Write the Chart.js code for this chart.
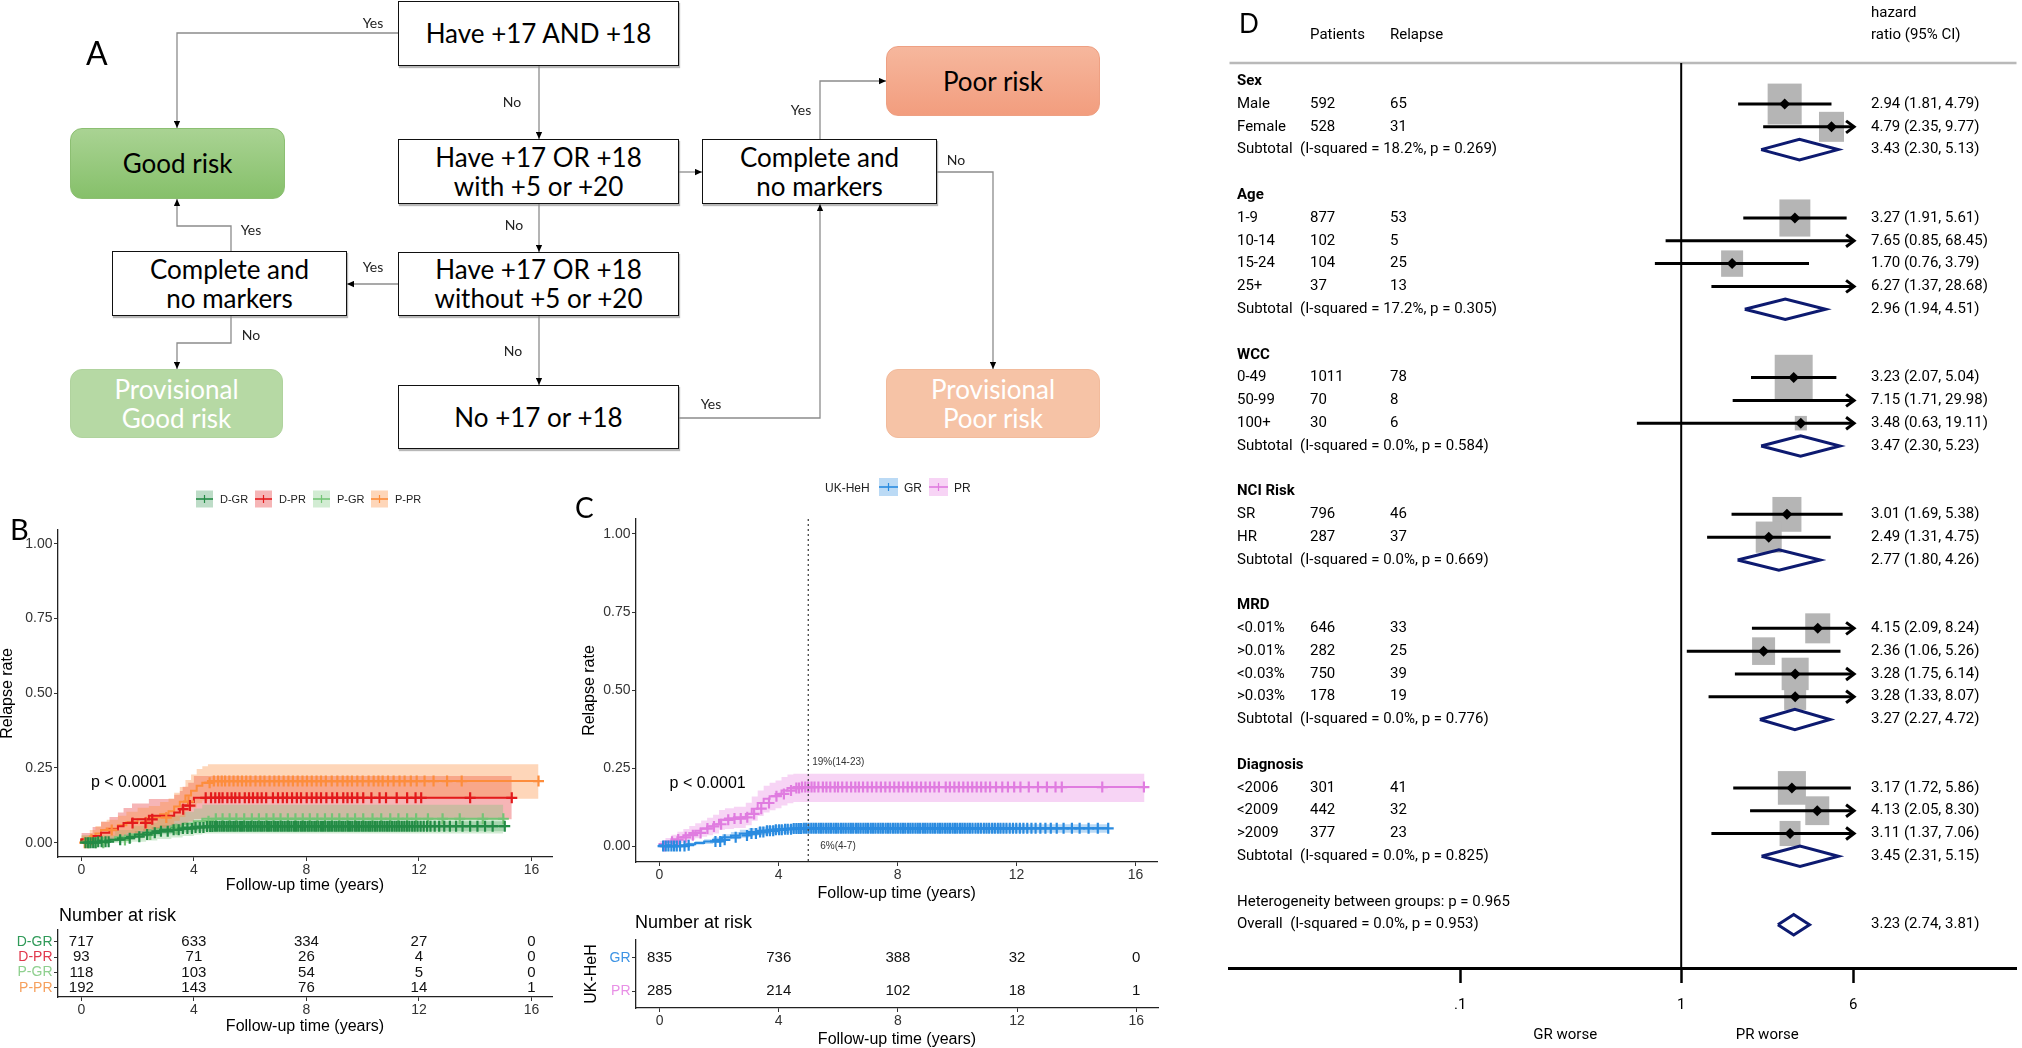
<!DOCTYPE html>
<html>
<head>
<meta charset="utf-8">
<title>Risk stratification figure</title>
<script src="https://cdn.jsdelivr.net/npm/chart.js@4.4.1/dist/chart.umd.min.js"></script>
<style>
  html, body { margin:0; padding:0; background:#fff; }
  #page { position:relative; width:2022px; height:1048px; overflow:hidden; background:#fff; }
  .fbox { position:absolute; box-sizing:border-box; display:flex; align-items:center; justify-content:center; text-align:center;
          font-family:Lato, "Open Sans", sans-serif; font-size:26px; line-height:29px; color:#000; z-index:1; }
  .wbox { background:#fff; border:1.6px solid #111; box-shadow:1px 2px 1px rgba(0,0,0,0.28); }
  .rbox { border-radius:12px; }
  canvas { position:absolute; z-index:2; }
  #overlay { position:absolute; left:0; top:0; z-index:5; pointer-events:none; }
</style>
</head>
<body>
<div id="page">
  <!-- Panel A flowchart boxes -->
  <div class="fbox wbox" style="left:398px;top:1px;width:281px;height:65px;">Have +17 AND +18</div>
  <div class="fbox wbox" style="left:398px;top:139px;width:281px;height:65px;">Have +17 OR +18<br>with +5 or +20</div>
  <div class="fbox wbox" style="left:702px;top:139px;width:235px;height:65px;">Complete and<br>no markers</div>
  <div class="fbox wbox" style="left:398px;top:252px;width:281px;height:64px;">Have +17 OR +18<br>without +5 or +20</div>
  <div class="fbox wbox" style="left:112px;top:251px;width:235px;height:65px;">Complete and<br>no markers</div>
  <div class="fbox wbox" style="left:398px;top:385px;width:281px;height:64px;">No +17 or +18</div>
  <div class="fbox rbox" style="left:70px;top:128px;width:215px;height:71px;background:linear-gradient(#a9d393,#86c06a);border:1px solid #8cbf72;">Good risk</div>
  <div class="fbox rbox" style="left:886px;top:46px;width:214px;height:70px;background:linear-gradient(#f6b79d,#f29d7e);border:1px solid #eea083;">Poor risk</div>
  <div class="fbox rbox" style="left:70px;top:369px;width:213px;height:69px;background:#b6d9a4;border:1px solid #b0d39e;color:#fff;">Provisional<br>Good risk</div>
  <div class="fbox rbox" style="left:886px;top:369px;width:214px;height:69px;background:#f6c3a6;border:1px solid #f2bb9c;color:#fff;">Provisional<br>Poor risk</div>

  <canvas id="kmB" width="560" height="380" style="left:0px;top:520px;width:560px;height:380px;"></canvas>
  <canvas id="riskB" width="560" height="143" style="left:0px;top:905px;width:560px;height:143px;"></canvas>
  <canvas id="kmC" width="590" height="400" style="left:575px;top:505px;width:590px;height:400px;"></canvas>
  <canvas id="riskC" width="590" height="123" style="left:575px;top:925px;width:590px;height:123px;"></canvas>
  <canvas id="forestD" width="798" height="1048" style="left:1224px;top:0px;width:798px;height:1048px;"></canvas>

  <svg id="overlay" width="2022" height="1048" xmlns="http://www.w3.org/2000/svg">
    <defs>
      <marker id="ah" viewBox="0 0 10 10" refX="10" refY="5" markerWidth="7" markerHeight="7" markerUnits="userSpaceOnUse" orient="auto">
        <path d="M0,0.5 L10,5 L0,9.5 z" fill="#000"/>
      </marker>
    </defs>
    <g fill="none" stroke="#8c8c8c" stroke-width="1.3" marker-end="url(#ah)">
      <polyline points="398,33 177,33 177,128"/>
      <polyline points="539,66 539,139"/>
      <polyline points="679,172 702,172"/>
      <polyline points="539,204 539,252"/>
      <polyline points="398,284 347,284"/>
      <polyline points="231,251 231,226 177,226 177,199"/>
      <polyline points="231,316 231,343 177,343 177,369"/>
      <polyline points="539,316 539,385"/>
      <polyline points="679,418 820,418 820,204"/>
      <polyline points="820,139 820,81 886,81"/>
      <polyline points="937,172 993,172 993,369"/>
    </g>
    <g font-family="Lato, sans-serif" font-size="14" fill="#222" text-anchor="middle">
      <text x="373" y="28">Yes</text>
      <text x="512" y="107">No</text>
      <text x="514" y="230">No</text>
      <text x="373" y="272">Yes</text>
      <text x="251" y="235">Yes</text>
      <text x="251" y="340">No</text>
      <text x="513" y="356">No</text>
      <text x="711" y="409">Yes</text>
      <text x="801" y="115">Yes</text>
      <text x="956" y="165">No</text>
    </g>
    <g font-family="Lato, sans-serif" fill="#000">
      <text x="86" y="65" font-size="32">A</text>
      <text x="10" y="540" font-size="29">B</text>
      <text x="575" y="518" font-size="28">C</text>
    </g>
    <g font-family="'Liberation Sans', Arial, sans-serif" font-size="18" fill="#000">
      <text x="59" y="921">Number at risk</text>
      <text x="635" y="928">Number at risk</text>
    </g>
    <g id="legendB"></g>
    <g id="legendC"></g>
  </svg>
</div>

<script>
// ===================== DATA =====================
// shared KM axes
const timeTicks = [0, 4, 8, 12, 16];
const rateTicks = [0, 0.25, 0.5, 0.75, 1];

// ---- Panel B ----
const bGroups = ['D-GR', 'D-PR', 'P-GR', 'P-PR'];
const bRisk = [
  [717, 633, 334, 27, 0],
  [93, 71, 26, 4, 0],
  [118, 103, 54, 5, 0],
  [192, 143, 76, 14, 1]
];
const dgrTime  = [0, 0.6, 1.0, 1.3, 1.6, 1.9, 2.2, 2.5, 2.8, 3.2, 3.6, 4.0, 4.4, 4.7, 15.1];
const dgrRate  = [0, 0.003, 0.006, 0.010, 0.015, 0.020, 0.027, 0.033, 0.038, 0.043, 0.047, 0.051, 0.054, 0.055, 0.055];
const dgrLower = [0, 0, 0.001, 0.003, 0.006, 0.010, 0.015, 0.020, 0.024, 0.028, 0.031, 0.034, 0.037, 0.038, 0.038];
const dgrUpper = [0, 0.007, 0.012, 0.017, 0.024, 0.030, 0.039, 0.046, 0.052, 0.058, 0.063, 0.068, 0.071, 0.072, 0.072];
const dgrCensor = [0.15,0.24,0.33,0.42,0.5,0.6,0.72,0.86,0.97,1.38,1.72,2.06,2.34,2.61,2.83,3.07,3.28,3.46,3.61,3.77,3.93,4.06,4.21,4.34,4.47,4.58,4.66,4.75,4.82,4.91,4.99,5.07,5.16,5.23,5.31,5.4,5.47,5.55,5.64,5.71,5.79,5.88,5.95,6.03,6.12,6.19,6.27,6.36,6.43,6.51,6.6,6.67,6.75,6.84,6.91,6.99,7.08,7.15,7.23,7.32,7.39,7.47,7.56,7.63,7.71,7.8,7.87,7.95,8.04,8.11,8.19,8.28,8.35,8.43,8.52,8.59,8.67,8.76,8.83,8.91,9.0,9.07,9.15,9.24,9.31,9.39,9.48,9.55,9.63,9.72,9.79,9.87,9.96,10.03,10.11,10.2,10.27,10.35,10.44,10.52,10.61,10.7,10.78,10.87,10.95,11.04,11.13,11.21,11.3,11.39,11.48,11.57,11.66,11.76,11.85,11.95,12.06,12.17,12.29,12.41,12.56,12.72,12.9,13.1,13.32,13.55,13.82,14.08,14.35,14.62,15.05];

const dprTime  = [0, 0.4, 0.7, 1.0, 1.3, 1.5, 1.8, 2.4, 3.3, 3.5, 3.6, 3.8, 4.0, 4.2, 15.3];
const dprRate  = [0, 0.011, 0.022, 0.033, 0.044, 0.055, 0.066, 0.078, 0.090, 0.101, 0.112, 0.124, 0.136, 0.150, 0.150];
const dprLower = [0, 0, 0, 0.005, 0.010, 0.016, 0.022, 0.029, 0.037, 0.045, 0.053, 0.061, 0.070, 0.078, 0.078];
const dprUpper = [0, 0.032, 0.052, 0.070, 0.086, 0.101, 0.116, 0.131, 0.146, 0.160, 0.173, 0.187, 0.200, 0.223, 0.223];
const dprCensor = [1.82,2.28,2.52,3.62,3.86,4.42,4.61,4.76,4.9,5.02,5.19,5.34,5.47,5.62,5.81,5.96,6.1,6.26,6.41,6.57,6.81,6.99,7.16,7.31,7.49,7.66,7.81,8.01,8.19,8.36,8.52,8.71,8.92,9.09,9.31,9.46,9.62,9.81,10.02,10.31,10.6,10.83,11.21,11.58,11.88,12.08,13.82,15.3];

const pgrTime  = [0, 1.2, 1.8, 2.3, 2.7, 3.2, 3.6, 4.0, 4.3, 4.7, 15.0];
const pgrRate  = [0, 0.009, 0.018, 0.027, 0.036, 0.045, 0.054, 0.063, 0.072, 0.080, 0.080];
const pgrLower = [0, 0, 0, 0.003, 0.007, 0.012, 0.017, 0.022, 0.027, 0.031, 0.031];
const pgrUpper = [0, 0.025, 0.042, 0.055, 0.067, 0.079, 0.091, 0.103, 0.114, 0.127, 0.127];
const pgrCensor = [0.28,0.52,0.78,1.55,2.45,3.38,4.52,4.78,5.02,5.27,5.51,5.79,6.06,6.31,6.58,6.83,7.08,7.34,7.61,7.87,8.12,8.39,8.66,8.91,9.17,9.46,9.73,10.02,10.35,10.66,10.98,11.27,11.58,11.9,12.32,12.84,13.45,14.27,15.0];

const pprTime  = [0, 0.3, 0.5, 0.7, 0.9, 1.3, 1.6, 2.0, 2.4, 2.8, 3.1, 3.3, 3.5, 3.7, 3.9, 4.1, 4.3, 4.5, 4.7, 16.25];
const pprRate  = [0, 0.010, 0.021, 0.031, 0.042, 0.047, 0.058, 0.068, 0.079, 0.084, 0.095, 0.105, 0.121, 0.137, 0.158, 0.174, 0.190, 0.200, 0.206, 0.206];
const pprLower = [0, 0, 0.003, 0.008, 0.015, 0.018, 0.025, 0.032, 0.040, 0.044, 0.052, 0.060, 0.073, 0.086, 0.104, 0.118, 0.132, 0.141, 0.147, 0.147];
const pprUpper = [0, 0.024, 0.042, 0.056, 0.070, 0.077, 0.090, 0.103, 0.117, 0.123, 0.136, 0.148, 0.167, 0.186, 0.210, 0.228, 0.246, 0.256, 0.262, 0.262];
const pprCensor = [0.12,0.22,0.36,1.08,2.31,3.02,3.81,4.56,4.71,4.86,4.99,5.11,5.26,5.41,5.56,5.71,5.86,6.01,6.19,6.36,6.51,6.69,6.86,7.02,7.19,7.36,7.52,7.69,7.86,8.02,8.19,8.36,8.52,8.69,8.9,9.1,9.29,9.46,9.62,9.81,10.0,10.21,10.39,10.56,10.71,10.9,11.1,11.31,11.49,11.71,11.92,12.2,12.52,13.0,13.52,16.25];

// ---- Panel C ----
const cGroups = ['GR', 'PR'];
const cRisk = [
  [835, 736, 388, 32, 0],
  [285, 214, 102, 18, 1]
];
const grTime  = [0, 0.9, 1.2, 1.5, 1.8, 2.1, 2.4, 2.7, 3.0, 3.3, 3.6, 3.9, 4.2, 4.5, 4.8, 15.1];
const grRate  = [0, 0.003, 0.006, 0.010, 0.015, 0.020, 0.028, 0.034, 0.040, 0.045, 0.049, 0.052, 0.054, 0.056, 0.057, 0.057];
const grLower = [0, 0, 0.001, 0.004, 0.007, 0.011, 0.017, 0.022, 0.027, 0.032, 0.035, 0.038, 0.040, 0.042, 0.043, 0.043];
const grUpper = [0, 0.007, 0.011, 0.016, 0.022, 0.028, 0.038, 0.045, 0.052, 0.058, 0.062, 0.065, 0.067, 0.069, 0.070, 0.070];
const grCensor = [0.12,0.21,0.3,0.4,0.49,0.58,0.69,0.84,0.98,1.88,2.04,2.19,2.56,2.94,3.09,3.24,3.38,3.49,3.61,3.71,3.82,3.91,4.02,4.11,4.22,4.31,4.42,4.51,4.6,4.68,4.76,4.85,4.93,5.01,5.1,5.18,5.26,5.35,5.43,5.51,5.6,5.68,5.76,5.85,5.93,6.01,6.1,6.18,6.26,6.35,6.43,6.51,6.6,6.68,6.76,6.85,6.93,7.01,7.1,7.18,7.26,7.35,7.43,7.51,7.6,7.68,7.76,7.85,7.93,8.01,8.1,8.18,8.26,8.35,8.43,8.51,8.6,8.68,8.76,8.85,8.93,9.01,9.1,9.18,9.26,9.35,9.43,9.51,9.6,9.68,9.76,9.85,9.93,10.01,10.1,10.18,10.26,10.35,10.43,10.52,10.62,10.71,10.8,10.9,10.99,11.08,11.18,11.27,11.37,11.46,11.56,11.66,11.77,11.88,11.99,12.11,12.23,12.36,12.5,12.64,12.8,12.97,13.15,13.35,13.58,13.86,14.12,14.42,14.73,15.08];

const prTime  = [0, 0.2, 0.4, 0.6, 0.8, 1.0, 1.2, 1.4, 1.6, 1.8, 2.0, 2.2, 2.5, 2.9, 3.1, 3.3, 3.5, 3.7, 3.9, 4.1, 4.3, 4.5, 4.7, 16.3];
const prRate  = [0, 0.007, 0.014, 0.021, 0.028, 0.035, 0.042, 0.049, 0.056, 0.063, 0.070, 0.084, 0.088, 0.092, 0.103, 0.120, 0.138, 0.152, 0.160, 0.167, 0.178, 0.186, 0.189, 0.189];
const prLower = [0, 0, 0.002, 0.006, 0.010, 0.015, 0.020, 0.025, 0.030, 0.035, 0.040, 0.052, 0.055, 0.058, 0.067, 0.081, 0.096, 0.108, 0.115, 0.121, 0.130, 0.137, 0.141, 0.141];
const prUpper = [0, 0.016, 0.026, 0.036, 0.046, 0.055, 0.064, 0.073, 0.082, 0.091, 0.100, 0.116, 0.121, 0.126, 0.139, 0.159, 0.178, 0.193, 0.203, 0.210, 0.221, 0.229, 0.232, 0.232];
const prCensor = [0.16,0.42,0.63,0.88,1.12,1.38,1.61,1.83,2.07,2.31,2.52,2.73,2.95,3.18,3.42,3.68,3.93,4.18,4.42,4.6,4.69,4.79,4.9,5.0,5.11,5.21,5.34,5.49,5.61,5.74,5.89,6.0,6.14,6.29,6.44,6.58,6.7,6.84,6.99,7.14,7.29,7.44,7.59,7.74,7.89,8.04,8.19,8.34,8.49,8.64,8.79,8.94,9.09,9.24,9.39,9.62,9.76,9.91,10.06,10.21,10.36,10.51,10.66,10.81,10.96,11.11,11.31,11.52,11.71,11.92,12.13,12.41,12.72,13.02,13.31,13.52,14.88,16.28];
const cMarkTime = 5;
const cMarkLabels = ['19%(14-23)', '6%(4-7)'];
const pValueText = 'p < 0.0001';

// ---- Panel D (forest plot) ----
const fGroups = ['Sex', 'Age', 'WCC', 'NCI Risk', 'MRD', 'Diagnosis'];
const fLabels = ['Male','Female','1-9','10-14','15-24','25+','0-49','50-99','100+','SR','HR','<0.01%','>0.01%','<0.03%','>0.03%','<2006','<2009','>2009'];
const fGroupOf = [0,0,1,1,1,1,2,2,2,3,3,4,4,4,4,5,5,5];
const fPatients = [592,528,877,102,104,37,1011,70,30,796,287,646,282,750,178,301,442,377];
const fRelapse  = [65,31,53,5,25,13,78,8,6,46,37,33,25,39,19,41,32,23];
const fHR    = [2.94,4.79,3.27,7.65,1.70,6.27,3.23,7.15,3.48,3.01,2.49,4.15,2.36,3.28,3.28,3.17,4.13,3.11];
const fLow   = [1.81,2.35,1.91,0.85,0.76,1.37,2.07,1.71,0.63,1.69,1.31,2.09,1.06,1.75,1.33,1.72,2.05,1.37];
const fHigh  = [4.79,9.77,5.61,68.45,3.79,28.68,5.04,29.98,19.11,5.38,4.75,8.24,5.26,6.14,8.07,5.86,8.30,7.06];
const fWeight = [23,12.4,19,2.5,9.6,3,28.6,4,2.9,16.7,13.4,12.4,10.5,14.5,9.6,15.6,11.4,8.7];
const subHR   = [3.43,2.96,3.47,2.77,3.27,3.45];
const subLow  = [2.30,1.94,2.30,1.80,2.27,2.31];
const subHigh = [5.13,4.51,5.23,4.26,4.72,5.15];
const subI2   = ['18.2%','17.2%','0.0%','0.0%','0.0%','0.0%'];
const subP    = ['0.269','0.305','0.584','0.669','0.776','0.825'];
const overallHR = 3.23, overallLow = 2.74, overallHigh = 3.81, overallI2 = '0.0%', overallP = '0.953';
const hetP = '0.965';
const hrTicks = [0.1, 1, 6];
const hrTickLabels = ['.1', '1', '6'];

// ===================== STYLE =====================
const sans = '"Liberation Sans", Arial, Helvetica, sans-serif';
const bStyle = [
  { color:'#238b45', band:'rgba(35,139,69,0.30)', label:'#2f9a58' },
  { color:'#e31a1c', band:'rgba(227,26,28,0.32)', label:'#e0384c' },
  { color:'#74c476', band:'rgba(116,196,118,0.32)', label:'#8fd08f' },
  { color:'#fd8d3c', band:'rgba(253,141,60,0.36)', label:'#f6a05d' }
];
const cStyle = [
  { color:'#2a8be0', band:'rgba(42,139,224,0.32)', label:'#3d93e4' },
  { color:'#e07ce0', band:'rgba(232,128,226,0.34)', label:'#e890e6' }
];

// ===================== HELPERS =====================
function stepValue(times, vals, t) {
  let v = vals[0];
  for (let i = 0; i < times.length; i++) { if (times[i] <= t) v = vals[i]; else break; }
  return v;
}
function kmDatasets(groups, styles) {
  const ds = [];
  groups.forEach((g, gi) => {
    const lowIdx = ds.length;
    ds.push({ data: g.time.map((t, i) => ({ x: t, y: g.lower[i] })), stepped: 'after', borderWidth: 0,
              borderColor: 'rgba(0,0,0,0)', pointRadius: 0, fill: false, order: 20 - gi });
    ds.push({ data: g.time.map((t, i) => ({ x: t, y: g.upper[i] })), stepped: 'after', borderWidth: 0,
              borderColor: 'rgba(0,0,0,0)', pointRadius: 0, fill: { target: lowIdx }, backgroundColor: styles[gi].band, order: 20 - gi });
  });
  groups.forEach((g, gi) => {
    ds.push({ data: g.time.map((t, i) => ({ x: t, y: g.rate[i] })), stepped: 'after', borderWidth: 2,
              borderColor: styles[gi].color, pointRadius: 0, fill: false, order: 6 });
    ds.push({ data: g.censor.map(t => ({ x: t, y: stepValue(g.time, g.rate, t) })), showLine: false,
              pointStyle: 'cross', pointRadius: 5.5, pointBorderWidth: 2.2, pointBorderColor: styles[gi].color,
              borderColor: styles[gi].color, backgroundColor: styles[gi].color, order: 5 });
  });
  return ds;
}
function tickGrid() {
  return { display: true, drawOnChartArea: false, drawTicks: true, tickLength: 4, tickColor: '#333', tickWidth: 1 };
}
function xTimeAxis(xMin, xMax, height, titlePadBottom, lineH) {
  return {
    type: 'linear', min: xMin, max: xMax,
    afterBuildTicks: s => { s.ticks = timeTicks.map(v => ({ value: v })); },
    ticks: { font: { family: sans, size: 14 }, color: '#333', padding: 1, maxRotation: 0, autoSkip: false, callback: v => String(v) },
    grid: tickGrid(),
    border: { display: true, color: '#222', width: 1.3 },
    title: { display: true, text: 'Follow-up time (years)', color: '#000',
             font: { family: sans, size: 16, lineHeight: lineH }, padding: { top: 0, bottom: titlePadBottom } },
    afterFit: s => { s.height = height; }
  };
}
function pvalPlugin(id, annotate) {
  return {
    id: id,
    afterDatasetsDraw(chart) {
      const { ctx, scales: { x, y }, chartArea } = chart;
      ctx.save();
      if (annotate) {
        const px = x.getPixelForValue(cMarkTime);
        ctx.strokeStyle = '#444'; ctx.lineWidth = 1.3; ctx.setLineDash([2, 3]);
        ctx.beginPath(); ctx.moveTo(px, chartArea.top); ctx.lineTo(px, chartArea.bottom); ctx.stroke();
        ctx.setLineDash([]);
        ctx.fillStyle = '#333'; ctx.font = '10px ' + sans; ctx.textAlign = 'left'; ctx.textBaseline = 'middle';
        ctx.fillText(cMarkLabels[0], x.getPixelForValue(5.13), y.getPixelForValue(0.269));
        ctx.fillText(cMarkLabels[1], x.getPixelForValue(5.4), y.getPixelForValue(0.0));
      }
      ctx.fillStyle = '#000'; ctx.font = '16px ' + sans; ctx.textAlign = 'left'; ctx.textBaseline = 'middle';
      ctx.fillText(pValueText, x.getPixelForValue(0.34), y.getPixelForValue(0.2));
      ctx.restore();
    }
  };
}
function riskPlugin(id, rows) {
  return {
    id: id,
    afterDatasetsDraw(chart) {
      const { ctx, scales: { x, y } } = chart;
      ctx.save();
      ctx.fillStyle = '#111'; ctx.font = '15px ' + sans; ctx.textAlign = 'center'; ctx.textBaseline = 'middle';
      rows.forEach((row, r) => row.forEach((v, i) => ctx.fillText(String(v), x.getPixelForValue(timeTicks[i]), y.getPixelForValue(r))));
      ctx.restore();
    }
  };
}
const baseOpts = { responsive: false, animation: false, events: [], devicePixelRatio: 1 };
const noPlugins = { legend: { display: false }, tooltip: { enabled: false } };

// ===================== PANEL B =====================
const bData = [
  { time: dgrTime, rate: dgrRate, lower: dgrLower, upper: dgrUpper, censor: dgrCensor },
  { time: dprTime, rate: dprRate, lower: dprLower, upper: dprUpper, censor: dprCensor },
  { time: pgrTime, rate: pgrRate, lower: pgrLower, upper: pgrUpper, censor: pgrCensor },
  { time: pprTime, rate: pprRate, lower: pprLower, upper: pprUpper, censor: pprCensor }
];
new Chart(document.getElementById('kmB'), {
  type: 'line',
  data: { datasets: kmDatasets(bData, bStyle) },
  options: Object.assign({}, baseOpts, {
    layout: { padding: { top: 10, right: 8, left: 0, bottom: 0 } },
    plugins: noPlugins,
    scales: {
      x: xTimeAxis(-0.83, 16.73, 43, 5, 1.2),
      y: {
        type: 'linear', min: -0.048, max: 1.046,
        afterBuildTicks: s => { s.ticks = rateTicks.map(v => ({ value: v })); },
        ticks: { font: { family: sans, size: 14 }, color: '#333', padding: 1.5, callback: v => Number(v).toFixed(2) },
        grid: tickGrid(), border: { display: true, color: '#222', width: 1.3 },
        title: { display: true, text: 'Relapse rate', color: '#000', font: { family: sans, size: 16, lineHeight: 1 }, padding: { top: 0, bottom: 0 } },
        afterFit: s => { s.width = 58; }
      }
    }
  }),
  plugins: [pvalPlugin('pvalB', false)]
});

new Chart(document.getElementById('riskB'), {
  type: 'line',
  data: { datasets: [] },
  options: Object.assign({}, baseOpts, {
    layout: { padding: { top: 25, right: 8, left: 0, bottom: 10 } },
    plugins: noPlugins,
    scales: {
      x: xTimeAxis(-0.83, 16.73, 41, 2, 1.2),
      y: {
        type: 'linear', reverse: true, min: -0.78, max: 3.59,
        afterBuildTicks: s => { s.ticks = bGroups.map((g, i) => ({ value: i })); },
        ticks: { font: { family: sans, size: 14 }, padding: 1.5, color: c => bStyle[c.tick ? c.tick.value : c.index].label, callback: v => bGroups[v] },
        grid: tickGrid(), border: { display: true, color: '#222', width: 1.3 },
        afterFit: s => { s.width = 58; }
      }
    }
  }),
  plugins: [riskPlugin('riskTextB', bRisk)]
});

// ===================== PANEL C =====================
const cData = [
  { time: grTime, rate: grRate, lower: grLower, upper: grUpper, censor: grCensor },
  { time: prTime, rate: prRate, lower: prLower, upper: prUpper, censor: prCensor }
];
new Chart(document.getElementById('kmC'), {
  type: 'line',
  data: { datasets: kmDatasets(cData, cStyle) },
  options: Object.assign({}, baseOpts, {
    layout: { padding: { top: 14, right: 7, left: 0, bottom: 0 } },
    plugins: noPlugins,
    scales: {
      x: xTimeAxis(-0.79, 16.73, 43, 2, 1.2),
      y: {
        type: 'linear', min: -0.051, max: 1.048,
        afterBuildTicks: s => { s.ticks = rateTicks.map(v => ({ value: v })); },
        ticks: { font: { family: sans, size: 14 }, color: '#333', padding: 1.5, callback: v => Number(v).toFixed(2) },
        grid: tickGrid(), border: { display: true, color: '#222', width: 1.3 },
        title: { display: true, text: 'Relapse rate', color: '#000', font: { family: sans, size: 16, lineHeight: 1 }, padding: { top: 7, bottom: 0 } },
        afterFit: s => { s.width = 61; }
      }
    }
  }),
  plugins: [pvalPlugin('pvalC', true)]
});

new Chart(document.getElementById('riskC'), {
  type: 'line',
  data: { datasets: [] },
  options: Object.assign({}, baseOpts, {
    layout: { padding: { top: 15, right: 7, left: 0, bottom: 0 } },
    plugins: noPlugins,
    scales: {
      x: xTimeAxis(-0.79, 16.73, 40, 0, 1.0),
      y: {
        type: 'linear', reverse: true, min: -0.545, max: 1.515,
        afterBuildTicks: s => { s.ticks = cGroups.map((g, i) => ({ value: i })); },
        ticks: { font: { family: sans, size: 14 }, padding: 1.5, color: c => cStyle[c.tick ? c.tick.value : c.index].label, callback: v => cGroups[v] },
        grid: tickGrid(), border: { display: true, color: '#222', width: 1.3 },
        title: { display: true, text: 'UK-HeH', color: '#000', font: { family: sans, size: 16, lineHeight: 1 }, padding: { top: 9, bottom: 0 } },
        afterFit: s => { s.width = 61; }
      }
    }
  }),
  plugins: [riskPlugin('riskTextC', cRisk)]
});

// ===================== LEGENDS (SVG) =====================
function legendSwatch(x, yc, w, h, st) {
  return `<rect x="${x}" y="${yc - h / 2}" width="${w}" height="${h}" fill="${st.band}"/>` +
         `<line x1="${x}" x2="${x + w}" y1="${yc}" y2="${yc}" stroke="${st.color}" stroke-width="1.6"/>` +
         `<line x1="${x + w / 2}" x2="${x + w / 2}" y1="${yc - 4}" y2="${yc + 4}" stroke="${st.color}" stroke-width="1.2"/>`;
}
(function () {
  const swB = [196, 255, 313, 371];
  let s = '';
  bGroups.forEach((g, i) => {
    s += legendSwatch(swB[i], 499, 17, 17, bStyle[i]);
    s += `<text x="${swB[i] + 24}" y="503" font-family='${sans}' font-size="11" fill="#222">${g}</text>`;
  });
  document.getElementById('legendB').innerHTML = s;
  const swC = [879, 929];
  let c = `<text x="825" y="491.5" font-family='${sans}' font-size="12" fill="#222">UK-HeH</text>`;
  cGroups.forEach((g, i) => {
    c += legendSwatch(swC[i], 487, 19, 18, cStyle[i]);
    c += `<text x="${swC[i] + 25}" y="491.5" font-family='${sans}' font-size="12" fill="#222">${g}</text>`;
  });
  document.getElementById('legendC').innerHTML = c;
})();

// ===================== PANEL D =====================
const fFont = 'Roboto, "Liberation Sans", Arial, sans-serif';
const hrClip = hrTicks[hrTicks.length - 1];
const forestRows = [];
(function () {
  let r = 0;
  fGroups.forEach((g, gi) => {
    forestRows.push({ type: 'head', gi, r: r++ });
    fLabels.forEach((l, ii) => { if (fGroupOf[ii] === gi) forestRows.push({ type: 'item', ii, r: r++ }); });
    forestRows.push({ type: 'sub', gi, r: r++ });
    r++;
  });
  forestRows.push({ type: 'het', r: r++ });
  forestRows.push({ type: 'overall', r: r++ });
})();
const ciPts = [], estPts = [], diaPts = [];
function addDiamond(lo, hr, hi, r) {
  diaPts.push({ x: lo, y: r }, { x: hr, y: r - 0.45 }, { x: hi, y: r }, { x: hr, y: r + 0.45 }, { x: lo, y: r }, { x: lo, y: null });
}
forestRows.forEach(row => {
  if (row.type === 'item') {
    const i = row.ii;
    ciPts.push({ x: fLow[i], y: row.r }, { x: Math.min(fHigh[i], hrClip), y: row.r }, { x: fLow[i], y: null });
    if (fHR[i] <= hrClip) estPts.push({ x: fHR[i], y: row.r });
  } else if (row.type === 'sub') {
    addDiamond(subLow[row.gi], subHR[row.gi], subHigh[row.gi], row.r);
  } else if (row.type === 'overall') {
    addDiamond(overallLow, overallHR, overallHigh, row.r);
  }
});
const fmt2 = v => v.toFixed(2);
const forestPlugin = {
  id: 'forest',
  beforeDatasetsDraw(chart) {
    const { ctx, chartArea, scales: { x, y } } = chart;
    ctx.save();
    ctx.strokeStyle = '#b9b9b9'; ctx.lineWidth = 2.5;
    ctx.beginPath(); ctx.moveTo(chartArea.left, chartArea.top); ctx.lineTo(chartArea.right, chartArea.top); ctx.stroke();
    const x1 = x.getPixelForValue(1);
    ctx.strokeStyle = '#000'; ctx.lineWidth = 2;
    ctx.beginPath(); ctx.moveTo(x1, chartArea.top); ctx.lineTo(x1, chartArea.bottom); ctx.stroke();
    ctx.fillStyle = '#b5b5b5';
    forestRows.forEach(row => {
      if (row.type !== 'item') return;
      const i = row.ii;
      if (fHR[i] > hrClip) return;
      const w = 7.1 * Math.sqrt(fWeight[i]), h = w * 1.2;
      const px = x.getPixelForValue(fHR[i]), py = y.getPixelForValue(row.r);
      ctx.fillRect(px - w / 2, py - h / 2, w, h);
    });
    ctx.restore();
  },
  afterDatasetsDraw(chart) {
    const { ctx, chartArea, scales: { x, y } } = chart;
    ctx.save();
    // arrow heads for clipped CIs
    ctx.strokeStyle = '#000'; ctx.lineWidth = 3; ctx.lineJoin = 'miter';
    forestRows.forEach(row => {
      if (row.type !== 'item' || fHigh[row.ii] <= hrClip) return;
      const px = x.getPixelForValue(hrClip) + 1, py = y.getPixelForValue(row.r);
      ctx.beginPath(); ctx.moveTo(px - 8, py - 6); ctx.lineTo(px, py); ctx.lineTo(px - 8, py + 6); ctx.stroke();
    });
    // texts
    const col = { label: 13, pat: 86, rel: 166, hr: 647 };
    ctx.fillStyle = '#000';
    ctx.font = '26px Lato, sans-serif'; ctx.textAlign = 'left'; ctx.textBaseline = 'alphabetic';
    ctx.fillText('D', 15, 33);
    ctx.font = '15px ' + fFont; ctx.textBaseline = 'middle';
    ctx.fillText('Patients', col.pat, 35);
    ctx.fillText('Relapse', col.rel, 35);
    ctx.fillText('hazard', col.hr, 13);
    ctx.fillText('ratio (95% CI)', col.hr, 35);
    forestRows.forEach(row => {
      const py = y.getPixelForValue(row.r);
      if (row.type === 'head') {
        ctx.font = 'bold 15px ' + fFont; ctx.fillText(fGroups[row.gi], col.label, py);
      } else if (row.type === 'item') {
        const i = row.ii;
        ctx.font = '15px ' + fFont;
        ctx.fillText(fLabels[i], col.label, py);
        ctx.fillText(String(fPatients[i]), col.pat, py);
        ctx.fillText(String(fRelapse[i]), col.rel, py);
        ctx.fillText(`${fmt2(fHR[i])} (${fmt2(fLow[i])}, ${fmt2(fHigh[i])})`, col.hr, py);
      } else if (row.type === 'sub') {
        const g = row.gi;
        ctx.font = '15px ' + fFont;
        ctx.fillText(`Subtotal  (I-squared = ${subI2[g]}, p = ${subP[g]})`, col.label, py);
        ctx.fillText(`${fmt2(subHR[g])} (${fmt2(subLow[g])}, ${fmt2(subHigh[g])})`, col.hr, py);
      } else if (row.type === 'het') {
        ctx.font = '15px ' + fFont;
        ctx.fillText(`Heterogeneity between groups: p = ${hetP}`, col.label, py);
      } else if (row.type === 'overall') {
        ctx.font = '15px ' + fFont;
        ctx.fillText(`Overall  (I-squared = ${overallI2}, p = ${overallP})`, col.label, py);
        ctx.fillText(`${fmt2(overallHR)} (${fmt2(overallLow)}, ${fmt2(overallHigh)})`, col.hr, py);
      }
    });
    ctx.font = '15px ' + fFont; ctx.textAlign = 'center';
    const x1 = x.getPixelForValue(1);
    ctx.fillText('GR worse', x1 - 116, 1035);
    ctx.fillText('PR worse', x1 + 86, 1035);
    ctx.restore();
  }
};
new Chart(document.getElementById('forestD'), {
  type: 'line',
  data: { datasets: [
    { data: ciPts, showLine: true, borderColor: '#000', borderWidth: 3, pointRadius: 0, fill: false, spanGaps: false, order: 3 },
    { data: diaPts, showLine: true, borderColor: '#0d1a70', borderWidth: 3, borderJoinStyle: 'miter', pointRadius: 0, fill: false, spanGaps: false, order: 2 },
    { data: estPts, showLine: false, pointStyle: 'rectRot', pointRadius: 5.5, pointBackgroundColor: '#000', pointBorderColor: '#000', pointBorderWidth: 0, order: 1 }
  ] },
  options: Object.assign({}, baseOpts, {
    layout: { padding: { top: 63, left: 0, right: 0, bottom: 0 } },
    plugins: noPlugins,
    scales: {
      x: {
        type: 'logarithmic', min: 0.00902, max: 32.95,
        afterBuildTicks: s => { s.ticks = hrTicks.map(v => ({ value: v })); },
        ticks: { font: { family: fFont, size: 15 }, color: '#000', padding: 13, autoSkip: false, maxRotation: 0,
                 callback: (v) => hrTickLabels[hrTicks.indexOf(v)] !== undefined ? hrTickLabels[hrTicks.indexOf(v)] : '' },
        grid: { display: true, drawOnChartArea: false, drawTicks: true, tickLength: 15, tickWidth: 2.5, tickColor: '#000' },
        border: { display: true, color: '#000', width: 3 },
        afterFit: s => { s.height = 80; }
      },
      y: { type: 'linear', display: false, min: -0.8, max: 38.9, reverse: true }
    }
  }),
  plugins: [forestPlugin]
});
</script>
</body>
</html>
